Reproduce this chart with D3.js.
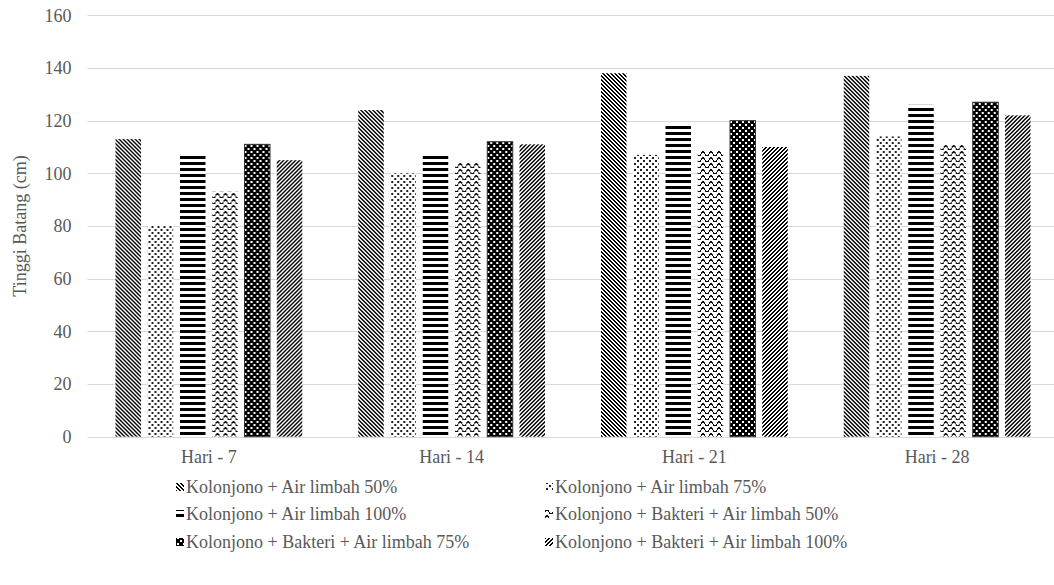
<!DOCTYPE html>
<html>
<head>
<meta charset="utf-8">
<script src="https://cdn.jsdelivr.net/npm/d3@7"></script>
<style>
  #chart text, svg#chart g text { font-family: "Liberation Serif" !important; }
</style>
</head>
<body style="margin:0">
<svg id="chart" width="1054" height="585"></svg>
<script>
const categories = ["Hari - 7", "Hari - 14", "Hari - 21", "Hari - 28"];
const seriesNames = [
  "Kolonjono + Air limbah 50%",
  "Kolonjono + Air limbah 75%",
  "Kolonjono + Air limbah 100%",
  "Kolonjono + Bakteri + Air limbah 50%",
  "Kolonjono + Bakteri + Air limbah 75%",
  "Kolonjono + Bakteri + Air limbah 100%"
];
const s1 = [113, 124, 138, 137];
const s2 = [80, 100, 107, 114];
const s3 = [107, 107, 119, 126];
const s4 = [93, 104, 108.5, 111];
const s5 = [111, 112, 120, 127];
const s6 = [105, 111, 110, 122];
const seriesValues = [s1, s2, s3, s4, s5, s6];
const yTicks = [0, 20, 40, 60, 80, 100, 120, 140, 160];
const yTitle = "Tinggi Batang (cm)";

const FS = 18;
const svg = d3.select("#chart");
const defs = svg.append("defs");

function setFont(sel) {
  sel.attr("font-family", "Liberation Serif").attr("font-size", FS).attr("fill", "#595959");
  sel.each(function () { this.style.setProperty("font-family", '"Liberation Serif"', "important"); });
  return sel;
}

function pat(id, w, h) {
  return defs.append("pattern").attr("id", id).attr("patternUnits", "userSpaceOnUse")
    .attr("width", w).attr("height", h);
}
{
  const p = pat("p0", 4, 4);
  p.append("rect").attr("width", 4).attr("height", 4).attr("fill", "#fff");
  for (let yy = 0; yy < 4; yy++) for (const k of [0, 1]) {
    p.append("rect").attr("x", (yy + k) % 4).attr("y", yy).attr("width", 1).attr("height", 1).attr("fill", "#000");
  }
}
{
  const p = pat("p1", 6, 6);
  p.append("rect").attr("width", 6).attr("height", 6).attr("fill", "#fff");
  p.append("rect").attr("x", 1).attr("y", 1).attr("width", 1.5).attr("height", 1.5).attr("fill", "#222");
  p.append("rect").attr("x", 4).attr("y", 4).attr("width", 1.5).attr("height", 1.5).attr("fill", "#222");
}
{
  const p = pat("p2", 6, 6);
  p.append("rect").attr("width", 6).attr("height", 6).attr("fill", "#fff");
  p.append("rect").attr("x", 0).attr("y", 0).attr("width", 6).attr("height", 3).attr("fill", "#000");
}
{
  const p = pat("p3", 8, 6);
  p.append("rect").attr("width", 8).attr("height", 6).attr("fill", "#fff");
  p.append("path").attr("d", "M0,4 C1.3,1 2.7,1 4,4 C5.3,7 6.7,7 8,4")
    .attr("fill", "none").attr("stroke", "#111").attr("stroke-width", 1.1);
}
{
  const p = pat("p4", 6, 6);
  p.append("rect").attr("width", 6).attr("height", 6).attr("fill", "#000");
  p.append("rect").attr("x", 1).attr("y", 1).attr("width", 1.5).attr("height", 1.5).attr("fill", "#fff");
  p.append("rect").attr("x", 4).attr("y", 4).attr("width", 1.5).attr("height", 1.5).attr("fill", "#fff");
}
{
  const p = pat("p5", 4, 4);
  p.append("rect").attr("width", 4).attr("height", 4).attr("fill", "#fff");
  for (let yy = 0; yy < 4; yy++) for (const k of [0, 1]) {
    p.append("rect").attr("x", (3 - yy + k + 4) % 4).attr("y", yy).attr("width", 1).attr("height", 1).attr("fill", "#000");
  }
}
defs.selectAll("pattern").attr("shape-rendering", "crispEdges");

const plotLeft = 87.5, plotRight = 1058.5, plotTop = 15.3, plotBottom = 436.7;

const y = d3.scaleLinear().domain([0, 160]).range([plotBottom, plotTop]);
const x0 = d3.scaleBand().domain(categories).range([plotLeft, plotRight]).padding(0);
const x1 = d3.scaleBand().domain(d3.range(seriesNames.length))
  .range([28, x0.bandwidth() - 28]).paddingInner(0.21).paddingOuter(0);

svg.append("g").selectAll("line").data(yTicks).join("line")
  .attr("x1", plotLeft).attr("x2", 1054)
  .attr("y1", d => Math.round(y(d)) + 0.5).attr("y2", d => Math.round(y(d)) + 0.5)
  .attr("stroke", "#d9d9d9").attr("stroke-width", 1);

const yg = svg.append("g").attr("transform", `translate(${plotLeft - 16},0)`)
  .call(d3.axisLeft(y).tickValues(yTicks).tickSize(0).tickPadding(0));
yg.attr("font-family", "Liberation Serif").attr("font-size", FS);
yg.select(".domain").remove();
setFont(yg.selectAll("text"));

const xg = svg.append("g").attr("transform", `translate(0,${plotBottom + 14})`)
  .call(d3.axisBottom(x0).tickSize(0).tickPadding(0));
xg.attr("font-family", "Liberation Serif").attr("font-size", FS);
xg.select(".domain").remove();
setFont(xg.selectAll("text"));

setFont(svg.append("text").attr("transform", `translate(20,${(plotTop + plotBottom) / 2}) rotate(-90)`)
  .attr("text-anchor", "middle").attr("dy", "0.32em").text(yTitle));

const groups = svg.append("g").selectAll("g").data(categories).join("g")
  .attr("transform", d => `translate(${x0(d)},0)`);
groups.selectAll("rect").data((d, i) => seriesValues.map((s, j) => ({ j, v: s[i] }))).join("rect")
  .attr("x", d => x1(d.j)).attr("width", x1.bandwidth())
  .attr("y", d => y(d.v)).attr("height", d => y(0) - y(d.v))
  .attr("fill", d => `url(#p${d.j})`)
  .attr("stroke", d => d.j === 4 ? "#333" : "none").attr("stroke-width", 1);

const legendPos = [[176, 487], [545, 487], [176, 514], [545, 514], [176, 542], [545, 542]];
const lg = svg.append("g").selectAll("g").data(seriesNames).join("g")
  .attr("transform", (d, i) => `translate(${legendPos[i][0]},${legendPos[i][1]})`);
lg.append("rect").attr("x", 0).attr("y", -4).attr("width", 8).attr("height", 8)
  .attr("fill", (d, i) => `url(#p${i})`);
setFont(lg.append("text").attr("x", 10).attr("y", 0).attr("dy", "0.32em").text(d => d));
</script>
</body>
</html>
